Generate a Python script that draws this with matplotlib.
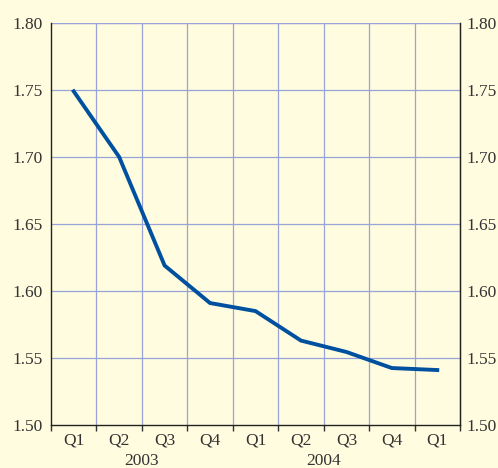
import matplotlib
matplotlib.use("Agg")
import matplotlib.pyplot as plt
import numpy as np

quarters = ["Q1", "Q2", "Q3", "Q4", "Q1", "Q2", "Q3", "Q4", "Q1"]
values = [1.749, 1.700, 1.619, 1.591, 1.585, 1.563, 1.5545, 1.5425, 1.541]
years = ["2003", "2004"]
year_span = [(0, 3), (4, 7)]
yticks = [1.50, 1.55, 1.60, 1.65, 1.70, 1.75, 1.80]

bg = "#fffce0"
grid_col = "#98a4d8"
line_col = "#0050a0"
text_col = "#333333"

plt.rcParams['font.family'] = ['Liberation Serif', 'DejaVu Serif']

fig = plt.figure(figsize=(4.98, 4.68), dpi=100, facecolor=bg)
ax = fig.add_axes([0.1024, 0.0919, 0.8213, 0.859])
ax.set_facecolor(bg)

x = np.arange(len(values))
ax.plot(x, values, color=line_col, lw=2.8, solid_joinstyle='miter', zorder=3)

ax.set_xlim(-0.5, len(values) - 0.5)
ax.set_ylim(1.50, 1.80)

# grid
for b in np.arange(0.5, len(values) - 0.5, 1.0):
    ax.axvline(b, color=grid_col, lw=0.9, zorder=1)
for yv in yticks[1:]:
    ax.axhline(yv, color=grid_col, lw=0.9, zorder=1)

ax.set_yticks(yticks)
ax.set_yticklabels(["%.2f" % v for v in yticks])
ax.tick_params(axis='y', length=0, labelsize=12.5, colors=text_col,
               left=True, right=True, labelleft=True, labelright=True)
ax.tick_params(axis='y', which='major', pad=6)
for t in ax.yaxis.get_major_ticks():
    t.set_pad(6)
ax2 = ax.secondary_yaxis('right')
ax.tick_params(axis='y', labelright=False)
ax2.set_yticks(yticks)
ax2.set_yticklabels(["%.2f" % v for v in yticks])
ax2.tick_params(axis='y', length=0, labelsize=12.5, colors=text_col, pad=4.5)
ax2.spines['right'].set_color("#222222")

# category boundaries as ticks, labels at centres
ax.set_xticks(np.arange(-0.5, len(values), 1.0))
ax.set_xticklabels([])
ax.tick_params(axis='x', direction='out', length=4, width=1, color="#333333")
for i, q in enumerate(quarters):
    ax.text(i, -0.018, q, transform=ax.get_xaxis_transform(), ha='center',
            va='top', fontsize=12.5, color=text_col)
for (a, b), yr in zip(year_span, years):
    ax.text((a + b) / 2, -0.069, yr, transform=ax.get_xaxis_transform(),
            ha='center', va='top', fontsize=12.5, color=text_col)

for s in ['left', 'right', 'bottom']:
    ax.spines[s].set_color("#222222")
    ax.spines[s].set_linewidth(1.0)
ax.spines['top'].set_visible(False)
ax.axhline(1.80, color=grid_col, lw=0.9, zorder=1)

fig.savefig("out.png", dpi=100, facecolor=bg)
